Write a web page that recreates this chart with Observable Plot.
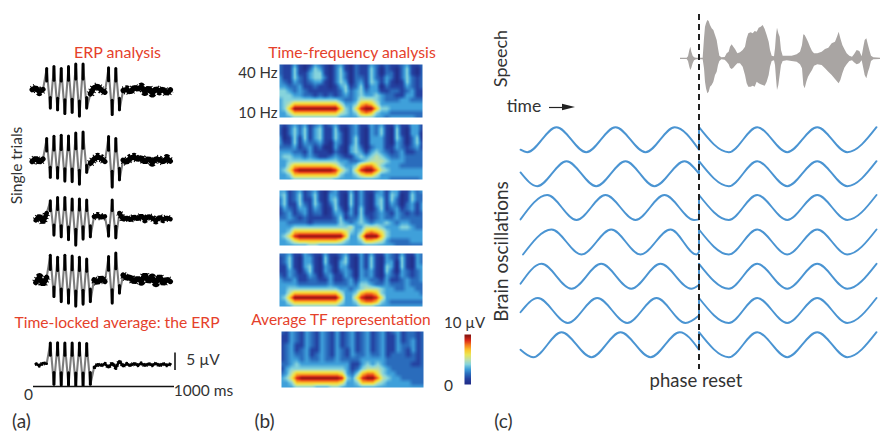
<!DOCTYPE html>
<html><head><meta charset="utf-8">
<script src="https://cdn.jsdelivr.net/npm/d3@7"></script>
<script src="https://cdn.jsdelivr.net/npm/@observablehq/plot@0.6"></script>
<style>html,body{margin:0;padding:0;background:#fff}#chart svg{display:block}</style>
</head><body><div id="chart"></div>
<script>
// ---------- (a) ERP single trials, µV every 26 ms starting at -10 ms ----------
const trial1 = [0.2,0.8,-0.4,0.3,6.0,-5.0,6.5,-5.5,6.0,-6.5,6.5,-6.2,7.2,-7.2,7.2,-5.0,-1.0,0.8,1.2,0.2,-0.5,6.2,-6.8,6.0,-5.5,0.0,0.3,-0.5,0.9,0.4,1.0,-0.4,0.8,-0.8,0.5,-0.2,0.4,-0.9,0.2];
const trial2 = [-0.3,0.7,-0.5,0.4,6.0,-4.8,6.6,-5.0,6.9,-5.8,6.7,-6.0,7.5,-6.7,7.8,-3.4,-0.8,0.4,1.0,0.6,-0.3,6.5,-7.5,6.0,-5.5,0.1,-0.5,0.7,1.0,0.3,0.8,-0.5,0.6,-0.6,0.5,0.2,-0.4,0.6,-0.2];
const trial3 = [null,-0.5,0.8,-1.2,1.5,4.8,-4.7,5.7,-5.2,5.7,-6.0,5.3,-7.5,5.3,-5.8,5.0,-5.2,0.5,0.8,0.3,0.6,-5.0,5.0,-5.5,1.5,-0.3,0.2,-0.4,0.5,-0.2,0.8,-0.3,0.6,0.1,-0.6,0.4,-0.3,0.2,-0.2];
const trial4 = [null,-0.6,0.9,-1.2,0.9,6.9,-4.6,6.3,-6.0,6.9,-6.4,6.7,-7.2,6.3,-6.7,5.8,-6.0,0.2,-0.6,0.8,-0.3,6.5,-6.4,7.5,-3.6,1.5,0.6,1.0,-0.5,0.7,-0.3,1.8,-0.4,0.8,-0.7,1.3,-1.0,0.4,-0.3];
const erpAverage = [null,0.2,-0.3,0.4,0.2,5.8,-5.6,5.9,-5.8,5.8,-5.8,5.8,-5.9,5.8,-5.9,5.7,-5.6,-0.9,0.1,-0.3,0.2,-0.8,0.4,-0.9,1.0,-0.5,0.2,-0.3,0.3,-0.2,0.3,-0.3,0.2,-0.2,0.3,-0.3,0.2,-0.2,0.1];

// ---------- (b) time-frequency power, µV: rows high to low frequency ----------
const tfTrial1 = [
[2,1,1,3,1,0,1,3,2,1,0,2,3,1,0,2,1,1,3,2,1,2,1,1,2,3,1,1,2],
[2,1,1,4,1,0,2,4,3,1,0,2,4,1,0,2,1,1,4,2,0,2,1,0,2,4,1,0,2],
[2,1,1,4,1,1,3,4,4,1,0,2,4,2,0,2,1,1,4,2,0,2,2,0,2,4,1,0,2],
[3,1,1,4,2,1,3,4,4,2,0,2,4,2,0,2,2,1,4,2,1,3,2,0,2,4,2,1,2],
[3,2,1,3,2,1,2,3,3,1,0,2,4,3,0,2,3,1,4,3,1,3,1,0,1,4,2,1,2],
[3,3,2,2,3,1,1,2,1,1,0,1,3,4,1,2,4,1,3,3,0,2,1,1,1,3,2,1,2],
[4,4,3,2,3,2,1,1,1,1,1,1,2,4,2,3,4,2,3,3,1,1,2,2,1,2,3,1,1],
[4,4,4,3,3,2,2,1,2,1,2,1,2,3,2,3,4,3,3,4,3,2,2,1,1,3,3,1,1],
[3,4,4,4,4,4,4,4,4,4,4,4,3,2,2,3,5,5,5,4,3,2,2,2,3,3,2,2,2],
[3,4,5,7,7,7,7,7,7,7,7,7,5,3,3,4,7,8,7,5,3,3,3,3,3,3,3,3,3],
[3,4,7,10,10,10,10,10,10,10,10,10,7,4,3,6,9,10,10,7,4,4,3,3,3,3,3,3,3],
[3,3,5,7,7,7,7,7,7,7,7,7,5,4,3,4,7,8,7,4,3,3,2,2,2,2,2,2,2],
[3,3,3,4,4,4,4,4,4,4,4,4,3,3,3,3,4,4,4,3,3,2,3,3,3,3,3,2,2]];
const tfTrial2 = [
[2,1,2,3,2,3,1,2,3,1,2,3,1,1,2,3,1,1,3,2,3,1,1,3,1,1,3,3,1],
[2,0,2,4,2,4,1,3,4,1,1,4,1,0,2,3,1,0,3,2,4,1,0,4,1,0,3,3,1],
[2,0,2,4,2,4,1,3,4,1,1,4,2,0,2,3,1,0,3,2,4,1,0,4,1,0,3,3,0],
[3,0,1,4,1,4,1,3,4,1,1,4,2,0,2,4,1,0,3,3,3,1,0,4,2,0,2,4,0],
[3,1,1,4,1,3,2,2,3,1,0,3,2,0,2,4,1,0,3,3,3,1,0,3,2,0,2,4,1],
[2,2,2,3,1,2,3,1,2,0,0,3,1,0,3,4,2,0,2,3,3,1,1,3,2,1,2,3,1],
[3,3,3,2,2,1,3,1,1,1,0,2,1,0,3,4,3,1,3,4,3,2,1,2,3,1,1,2,2],
[3,4,4,3,3,2,3,2,1,1,2,3,2,1,1,3,4,3,4,5,4,3,2,2,3,2,2,2,2],
[3,3,4,4,4,4,4,4,4,4,4,4,3,3,2,2,3,4,5,5,5,4,3,3,3,2,2,2,2],
[3,3,5,7,7,7,7,7,7,7,7,6,4,3,3,4,7,8,8,6,4,3,3,3,2,2,2,2,2],
[3,4,6,9,10,10,10,10,10,10,10,9,6,4,3,6,9,10,10,8,5,4,3,3,3,3,3,3,3],
[3,3,4,7,7,7,7,7,7,7,7,7,4,3,3,4,6,7,7,5,3,3,3,3,3,3,3,3,3],
[3,3,3,4,4,4,4,4,4,4,4,3,3,3,3,3,3,3,3,3,3,3,2,2,2,2,2,2,3]];
const tfTrial3 = [
[3,3,1,2,3,1,2,3,1,0,2,3,1,1,3,1,3,1,1,2,3,1,3,3,1,1,3,2,3],
[3,4,1,2,4,1,2,4,1,0,3,3,1,0,4,1,3,1,0,3,3,1,4,3,0,1,4,2,2],
[2,4,1,2,4,1,1,4,1,0,3,4,1,0,4,1,3,1,0,3,4,1,4,2,0,1,4,2,2],
[2,4,1,1,4,2,1,4,2,0,2,4,1,0,4,1,3,1,0,3,4,1,3,2,0,2,3,1,3],
[1,3,2,1,3,3,1,3,2,0,1,4,2,0,3,1,4,1,0,2,4,1,2,3,1,2,3,1,3],
[1,2,3,1,2,3,1,2,2,0,1,3,3,1,3,1,4,1,1,2,3,2,1,3,2,1,2,1,2],
[2,2,3,2,1,2,1,1,1,1,1,2,4,1,2,2,4,2,1,2,3,2,2,3,2,2,2,2,2],
[3,3,2,2,2,2,1,2,2,2,2,2,4,3,2,3,4,3,2,3,3,4,3,2,3,3,2,2,2],
[3,3,3,4,4,4,4,4,4,4,4,4,4,4,5,3,3,5,5,5,4,3,3,3,4,4,3,2,2],
[3,3,4,7,7,7,7,7,7,7,7,7,7,6,4,3,4,7,8,7,6,4,3,3,3,3,3,3,3],
[3,4,6,9,10,10,10,10,10,10,10,10,10,7,3,3,6,10,10,10,7,4,3,3,3,3,3,3,3],
[3,3,4,6,7,7,7,7,7,7,7,7,6,4,3,3,4,7,7,6,5,3,2,2,2,2,3,3,3],
[3,3,3,3,3,3,4,4,3,3,3,3,3,3,3,3,3,3,3,3,3,3,3,2,2,2,2,2,2]];
const tfTrial4 = [
[2,2,3,1,1,3,2,1,1,3,1,1,2,3,1,1,3,1,3,1,1,3,2,1,3,1,1,3,2],
[1,2,4,1,0,3,3,1,0,4,1,0,2,4,1,0,3,1,4,1,0,3,2,1,4,1,0,3,2],
[1,2,4,1,0,3,3,1,0,4,1,0,3,4,1,0,3,1,4,1,0,3,3,0,4,1,0,3,2],
[1,1,4,1,0,3,4,1,0,3,2,0,3,3,1,0,3,1,4,1,0,4,3,0,4,1,0,3,3],
[1,1,3,2,0,2,4,1,0,3,2,0,2,3,2,0,3,2,3,1,0,4,2,0,3,2,1,2,3],
[2,1,3,2,1,1,3,2,0,2,3,1,1,3,2,0,3,2,3,1,0,3,2,1,3,2,1,2,3],
[3,2,2,3,1,1,2,2,1,1,3,1,1,2,3,1,3,3,2,2,1,3,1,1,2,3,2,2,3],
[3,3,3,3,2,2,2,2,2,2,3,2,2,2,3,2,4,4,3,2,2,3,2,2,2,3,2,2,2],
[3,3,4,4,4,4,4,4,4,4,4,4,3,3,2,3,4,5,5,5,4,3,3,2,2,3,3,2,2],
[3,3,5,7,7,7,7,7,7,7,7,7,5,3,3,4,7,8,8,7,4,3,3,3,3,3,3,3,2],
[3,4,7,10,10,10,10,10,10,10,10,10,7,3,3,6,9,10,10,9,6,3,3,3,3,3,3,3,3],
[3,3,5,7,7,7,7,7,7,7,7,7,5,3,3,4,7,8,8,7,4,3,2,2,2,2,2,2,2],
[3,3,3,4,4,4,4,4,4,4,4,4,3,3,3,3,4,4,4,3,3,3,3,3,3,3,3,3,3]];
const tfAverage = [
[2,1,3,2,1,3,2,1,3,2,1,3,1,2,3,1,2,3,1,2,3,1,2,3,1,2,2,1,2],
[1,1,3,2,1,3,2,1,3,2,1,3,1,2,3,1,2,3,1,2,3,1,1,3,1,2,2,1,2],
[1,1,3,2,1,3,2,1,3,2,1,3,1,2,3,1,2,3,1,2,3,1,1,3,1,2,3,1,2],
[1,2,3,1,1,3,2,1,3,2,1,3,1,2,3,1,2,3,1,2,3,1,1,3,2,2,3,1,2],
[1,2,3,1,2,3,1,1,3,2,1,3,2,1,3,1,2,3,1,2,3,1,1,3,2,1,3,1,2],
[1,2,3,2,2,3,1,2,3,2,1,3,2,1,3,2,2,3,2,2,3,1,2,2,2,1,2,1,2],
[1,2,3,3,2,3,2,2,3,2,2,3,2,2,2,2,3,3,3,3,3,2,2,2,2,2,2,1,2],
[2,2,3,4,3,3,3,3,3,3,3,3,3,3,1,1,3,4,3,4,3,2,2,2,2,2,1,1,2],
[1,3,4,4,4,4,4,4,4,4,4,4,4,3,1,2,4,5,5,5,4,3,2,2,2,2,2,2,2],
[2,3,5,7,7,7,7,7,7,7,7,7,6,3,2,4,7,8,8,6,4,3,3,2,2,2,2,2,2],
[3,4,6,9,10,10,10,10,10,10,10,10,9,4,3,6,9,10,10,8,5,4,3,3,2,2,2,2,2],
[3,3,4,7,7,7,7,7,7,7,7,7,6,3,3,4,7,7,7,5,4,3,3,3,3,3,2,2,2],
[3,3,3,4,4,4,4,3,3,3,4,4,3,3,3,3,3,3,3,3,3,3,3,3,3,3,3,3,3]];
const colorbarValues = [10,9.5,9,8.5,8,7.5,7,6.5,6,5.5,5,4.5,4,3.5,3,2.5,2,1.5,1,0.5,0];
const colorStops = [0,1,2,3,4,5,6,7,8,9,10];
const colorRange = ["#222f8a","#2441a0","#2a6cbc","#3fa0da","#86d4dc","#bfe0a8","#e9e657","#fbc62c","#f4801f","#dc2a18","#8c1512"];

// ---------- (c) speech envelope ----------
const speechTime  = [0,20,24,28,31,34,38,42,48,60,68,72,75,78,82,86,90,95,100,105,110,114,118,124,134,140,146,150,155,160,165,172,180,188,195,200,205,212,218,224,230,236,242,248,254,260,266,270,275,282,285,288,291,295,299,303,308,320,335,350,360,366,370,374,379,384,390,396,402,412,425,435,445,455,465,472,476,481,487,493,500,508,516,522,530,538,545,550,554,559,564,568,573,580,600];
const speechUpper = [2,2,6,25,35,20,8,3,2,2,2,60,95,105,115,112,100,90,85,70,55,30,8,3,4,15,20,35,42,35,28,15,18,25,35,60,75,78,75,82,80,92,95,100,88,70,50,25,8,6,30,70,92,75,65,25,8,8,8,12,20,40,72,70,60,50,35,22,15,15,20,28,32,45,50,68,80,60,40,28,15,8,5,12,25,22,6,35,55,60,40,25,8,3,2];
const speechLower = [2,2,8,25,35,28,15,6,3,3,3,30,70,90,105,100,85,80,70,50,40,20,8,3,4,10,18,28,32,28,22,15,15,25,50,75,85,85,82,85,70,75,78,80,82,70,50,25,8,6,20,60,95,80,50,20,8,6,8,10,18,30,80,90,70,55,45,35,22,18,20,30,40,50,62,70,75,65,45,28,18,8,6,12,18,15,6,30,50,60,40,28,8,3,2];

// ---------- (c) oscillations: extrema before the reset (time, amplitude) ----------
const osc1T = [-178.5,-171.8,-142.5,-112.8,-83.5,-53.5,-24.2,0];
const osc1A = [-0.8,-1,1,-1,1,-1,1,-0.8];
const osc2T = [-178.5,-161.8,-132.5,-102.8,-73.5,-44.5,-14.5,0];
const osc2A = [0.1,-1,1,-1,1,-1,1,0];
const osc3T = [-178.5,-151.8,-122.5,-93.5,-63.5,-34.5,-5,0];
const osc3A = [-0.95,1,-1,1,-1,1,-1,-0.95];
const osc4T = [-176,-147.5,-117.5,-87.8,-58.5,-28.5,-2.5,0];
const osc4A = [-1,1,-1,1,-1,1,-1,-0.8];
const osc5T = [-178.5,-157.5,-127.5,-97.8,-67.8,-38.5,-7.8,0];
const osc5A = [-0.6,1,-1,1,-1,1,-1,-0.7];
const osc6T = [-178.5,-161.2,-131.2,-101.8,-71.8,-42.5,-13.5,0];
const osc6A = [-0.14,1,-1,1,-1,1,-1,-0.4];
const osc7T = [-178.5,-165.8,-137.5,-107.5,-78.5,-48.5,-19.2,0];
const osc7A = [-0.4,-1,1,-1,1,-1,1,-0.4];
const resetT = [0,29.8,58.2,88.2,118.2,148.2,177.5];
const resetA = [1,-1,1,-1,1,-1,1];

// ---------- layout of the figure ----------
const RED = "#e5412b", INK = "#333";
const FONT = "Lato, 'Open Sans', sans-serif";
const msX = t => 33 + 0.14 * t, uvPx = 3.6;
const erpTraces = [[trial1,90,5.2],[trial2,160,5.2],[trial3,218,4.6],[trial4,280,5.2],[erpAverage,364,2.6]];
const tfPanels = [[tfTrial1,279,422,64,117],[tfTrial2,279,422,124,179],[tfTrial3,279,422,190,245],[tfTrial4,279,422,253,306],[tfAverage,281,423,331,387]];
const oscTraces = [[osc1T,osc1A,139.2],[osc2T,osc2A,173.2],[osc3T,osc3A,207],[osc4T,osc4A,241.5],[osc5T,osc5A,275.8],[osc6T,osc6A,310],[osc7T,osc7A,344.2]];
const RESET = 698.5, OSC = 12.5, SPEECH_Y = 58.3;
const soft = "blur(0.5px)";

const label = (s, x, y, o = {}) => Plot.text([s], {x: () => x, y: () => y, text: d => d, fill: INK, fontSize: 15.5, fontFamily: FONT, lineAnchor: "middle", ...o});

// smooth reading of a regular rows × columns grid for Plot.raster
const gridInterpolate = (nr, nc) => (index, w, h, X, Y, V) => {
  const out = new Array(w * h);
  for (let py = 0; py < h; ++py) {
    const fy = Math.min(nr - 1.001, (py + 0.5) / h * (nr - 1)), r = Math.floor(fy), ty = fy - r;
    for (let px = 0; px < w; ++px) {
      const fx = Math.min(nc - 1.001, (px + 0.5) / w * (nc - 1)), c = Math.floor(fx), tx = fx - c;
      const a = V[r * nc + c], b = V[r * nc + c + 1], d = V[(r + 1) * nc + c], e = V[(r + 1) * nc + c + 1];
      out[py * w + px] = (a * (1 - tx) + b * tx) * (1 - ty) + (d * (1 - tx) + e * tx) * ty;
    }
  }
  return out;
};

const marks = [];
// (a)
for (const [vals, base, w] of erpTraces) {
  const pts = vals.map((v, i) => ({t: i * 26 - 10, v})).filter(d => d.v !== null);
  const yOf = v => base - v * uvPx;
  const quiet = d => Math.abs(d.v) < 3 ? yOf(d.v) : NaN;
  marks.push(Plot.line(pts, {x: d => msX(d.t), y: d => yOf(d.v), stroke: "#7d7d7d", strokeWidth: 2.1, imageFilter: soft}));
  marks.push(Plot.line(pts, {x: d => msX(d.t), y: quiet, stroke: "#000", strokeWidth: w, strokeLinejoin: "miter", imageFilter: soft}));
  marks.push(Plot.line(pts, {x: d => msX(d.t), y: quiet, stroke: "#000", strokeWidth: w * 1.6, strokeDasharray: "1,2.2", strokeLinecap: "butt", imageFilter: soft}));
  marks.push(Plot.ruleX(pts.filter(d => Math.abs(d.v) >= 3), {x: d => msX(d.t), y1: d => yOf(d.v), y2: d => yOf(0.42 * d.v), stroke: "#000", strokeWidth: 3, strokeLinecap: "round", imageFilter: soft}));
}
marks.push(Plot.ruleY([386], {x1: () => msX(0), x2: () => msX(1000) + 1, stroke: "#111", strokeWidth: 1.4}));
marks.push(Plot.ruleX([174.5], {y1: () => 352.5, y2: () => 370, stroke: "#444", strokeWidth: 2}));
// (b)
for (const [grid, x1, x2, y1, y2] of tfPanels) {
  const nr = grid.length, nc = grid[0].length;
  const cells = grid.flatMap((row, r) => row.map((v, c) => ({c, r, v})));
  marks.push(Plot.raster(cells, {
    x: d => x1 + (x2 - x1) * d.c / (nc - 1),
    y: d => y1 + (y2 - y1) * d.r / (nr - 1),
    fill: d => d.v, x1, x2, y1, y2, interpolate: gridInterpolate(nr, nc), imageFilter: "blur(0.5px)"
  }));
}
marks.push(Plot.raster(colorbarValues, {width: 1, height: colorbarValues.length, fill: d => d, x1: 464, x2: 470.5, y1: 334, y2: 384}));
// (c) speech
const speech = speechTime.map((t, i) => ({t, up: speechUpper[i], lo: speechLower[i]}));
marks.push(Plot.areaY(speech, {x: d => 680 + d.t / 3, y1: d => SPEECH_Y - d.up / 3, y2: d => SPEECH_Y + d.lo / 3, fill: "#a9a5a3", imageFilter: "blur(0.5px)"}));
// (c) oscillations
for (const [ts, as, base] of oscTraces) {
  const yOf = a => base - a * OSC;
  marks.push(Plot.line(ts.map((t, i) => [t, as[i]]), {x: d => RESET + d[0], y: d => yOf(d[1]), curve: "monotone-x", stroke: "#4a94d2", strokeWidth: 1.9}));
  marks.push(Plot.line(resetT.map((t, i) => [t, resetA[i]]), {x: d => RESET + d[0], y: d => yOf(d[1]), curve: "monotone-x", stroke: "#4a94d2", strokeWidth: 1.9}));
  marks.push(Plot.ruleX([RESET], {y1: () => yOf(as[as.length - 1]), y2: () => yOf(1), stroke: "#4a94d2", strokeWidth: 1.9}));
}
marks.push(Plot.ruleX([RESET], {y1: () => 14, y2: () => 369, stroke: "#222", strokeWidth: 2, strokeDasharray: "6,4"}));
// time arrow
marks.push(Plot.ruleY([107], {x1: () => 549, x2: () => 565, stroke: "#222", strokeWidth: 1.2}));
marks.push(Plot.areaY([[562,103.8,110.2],[575,107,107]], {x: d => d[0], y1: d => d[1], y2: d => d[2], fill: "#222"}));
// text
marks.push(
  label("ERP analysis", 117, 52, {fill: RED, fontSize: 16}),
  label("Time-locked average: the ERP", 116.5, 322, {fill: RED, fontSize: 15.7}),
  label("Single trials", 17, 165, {rotate: -90, fontSize: 15.5}),
  label("5 µV", 202.5, 360),
  label("0", 28, 395),
  label("1000 ms", 203, 391),
  label("(a)", 21, 421, {fontSize: 19}),
  label("Time-frequency analysis", 351.5, 52, {fill: RED, fontSize: 15.8}),
  label("40 Hz", 277, 73, {textAnchor: "end", fontSize: 15}),
  label("10 Hz", 277, 113, {textAnchor: "end", fontSize: 15}),
  label("Average TF representation", 340.5, 320, {fill: RED, fontSize: 15.5}),
  label("10 µV", 464, 323, {fontSize: 15}),
  label("0", 448, 386),
  label("(b)", 264, 421, {fontSize: 19}),
  label("Speech", 501, 58, {rotate: -90, fontSize: 18}),
  label("time", 523.5, 106, {fontSize: 17.5}),
  label("Brain oscillations", 501, 251, {rotate: -90, fontSize: 19}),
  label("phase reset", 695.5, 381, {fontSize: 18.5}),
  label("(c)", 503, 421, {fontSize: 19})
);

const plot = Plot.plot({
  width: 880, height: 432, margin: 0,
  style: {background: "#fff", fontFamily: FONT},
  x: {domain: [0, 880], range: [0, 880], axis: null},
  y: {domain: [0, 432], range: [0, 432], axis: null},
  color: {type: "linear", domain: colorStops, range: colorRange, legend: false},
  marks
});
document.getElementById("chart").appendChild(plot);
</script></body></html>
